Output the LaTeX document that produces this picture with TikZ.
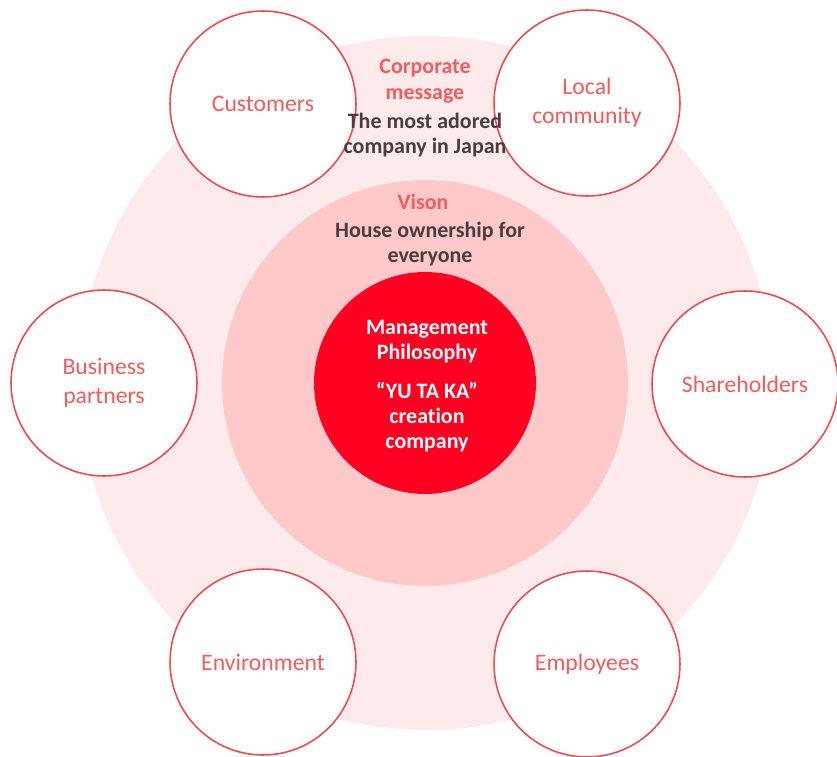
\documentclass[tikz,border=0pt]{standalone}
\usepackage{fontspec}
\setmainfont{Carlito}[Ligatures=NoCommon]
\usetikzlibrary{positioning}
\definecolor{palecol}{HTML}{FDEBEC}
\definecolor{visioncol}{HTML}{FFC9CA}
\definecolor{corecol}{HTML}{FF0022}
\definecolor{ringcol}{HTML}{EE4B4E}
\definecolor{labelcol}{HTML}{F25C5C}
\definecolor{darkcol}{HTML}{4A3D3D}
\tikzset{
  disc/.style={circle, draw=none, inner sep=0pt},
  message disc/.style={disc, fill=palecol, minimum size=13.88cm},
  vision disc/.style={disc, fill=visioncol, minimum size=8.12cm},
  core disc/.style={disc, fill=corecol, minimum size=4.44cm},
  stake/.style={circle, draw=ringcol, fill=white, line width=0.9pt,
                minimum size=3.72cm, inner sep=0pt, align=center,
                text=labelcol, font=\fontsize{13.5}{16.5}\selectfont},
  head/.style={font=\bfseries\fontsize{12.5}{14.5}\selectfont,
               text=labelcol, align=center},
  body/.style={font=\bfseries\fontsize{12.5}{14}\selectfont,
               text=darkcol, align=center},
  core text/.style={font=\bfseries\fontsize{12.5}{14.2}\selectfont,
                    text=white, align=center},
}
\begin{document}
\begin{tikzpicture}[x=0.02cm, y=-0.02cm]
    \useasboundingbox (0,0) rectangle (837,756);

    % nested discs
    \node[message disc] (message) at (426,383) {};
    \node[vision disc] (vision) at (425,383) {};
    \node[core disc] (core) at (425,383) {};

    % stakeholders
    \node[stake] (customers) at (263,104) {Customers};
    \node[stake] (community) at (587,103) {Local\\community};
    \node[stake] (partners) at (104,383) {Business\\partners};
    \node[stake] (holders) at (745,384) {Shareholders};
    \node[stake] (environment) at (263,662) {Environment};
    \node[stake] (employees) at (587,664) {Employees};

    % texts
    \node[head] (msghead) at (425,81) {Corporate\\message};
    \node[body] (msgbody) at (425,135) {The most adored\\company in Japan};
    \node[head] (vishead) at (423,202) {Vison};
    \node[body] (visbody) at (430,244) {House ownership for\\everyone};
    \node[core text] (philosophy) at (427,342) {Management\\Philosophy};
    \node[core text] (yutaka) at (427,417) {“YU TA KA”\\creation\\company};
\end{tikzpicture}
\end{document}
